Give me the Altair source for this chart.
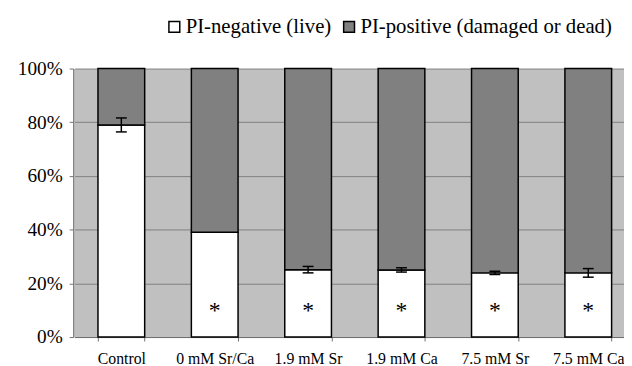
import altair as alt
import pandas as pd

categories = ["Control", "0 mM Sr/Ca", "1.9 mM Sr", "1.9 mM Ca", "7.5 mM Sr", "7.5 mM Ca"]
live = [79, 39, 25.1, 25.0, 23.9, 23.9]
err = [2.6, 0, 1.2, 0.8, 0.6, 1.6]
signif = ["", "*", "*", "*", "*", "*"]
series = ["PI-negative (live)", "PI-positive (damaged or dead)"]
y_ticks = [0, 20, 40, 60, 80, 100]

FONT = "'Liberation Serif', 'Times New Roman', Times, serif"

rows = []
for c, v in zip(categories, live):
    rows.append({"cat": c, "series": series[0], "lo": 0, "hi": v})
    rows.append({"cat": c, "series": series[1], "lo": v, "hi": 100})
bars_df = pd.DataFrame(rows)

pt_df = pd.DataFrame({
    "cat": categories,
    "live": live,
    "err": err,
    "lo": [v - e for v, e in zip(live, err)],
    "hi": [v + e for v, e in zip(live, err)],
    "sig": signif,
    "star_y": [7] * len(categories),
})

xscale = alt.Scale(domain=categories, range=[1.5, 569.1], paddingInner=0.5, paddingOuter=0.25)
yscale = alt.Scale(domain=[0, 100], nice=False)

xaxis = alt.Axis(title=None, labelAngle=0, tickBand="extent", grid=False,
                 domainColor="#707070", tickColor="#707070", tickSize=4,
                 labelPadding=10, labelFontSize=16, labelColor="black",
                 labelFont=FONT)
yaxis = alt.Axis(title=None, values=y_ticks, labelExpr="datum.value + '%'",
                 grid=True, gridColor="#808080", gridWidth=1,
                 domainColor="#707070", tickColor="#707070", tickSize=4,
                 labelPadding=7, labelFontSize=19.5, labelColor="black",
                 labelFont=FONT)

bars = alt.Chart(bars_df).mark_bar(stroke="black", strokeWidth=1.5).encode(
    x=alt.X("cat:N", scale=xscale, axis=xaxis, sort=categories),
    y=alt.Y("lo:Q", scale=yscale, axis=yaxis),
    y2="hi:Q",
    color=alt.Color("series:N", scale=alt.Scale(domain=series, range=["#ffffff", "#808080"]),
                    legend=alt.Legend(title=None, orient="none", legendX=92, legendY=-53,
                                      direction="horizontal", symbolType="square",
                                      symbolSize=121, symbolStrokeColor="black",
                                      symbolStrokeWidth=1.5, labelFontSize=21,
                                      labelFont=FONT, labelColor="black", labelLimit=1000,
                                      labelOffset=1, columnPadding=7, padding=0)),
    order=alt.Order("series:N"),
)

eb = alt.Chart(pt_df).transform_filter("datum.err > 0")
rule = eb.mark_rule(color="black", strokeWidth=1.5).encode(
    x=alt.X("cat:N", scale=xscale, sort=categories),
    y=alt.Y("lo:Q", scale=yscale),
    y2="hi:Q",
)
cap_lo = eb.mark_tick(color="black", thickness=1.5, size=11, opacity=1).encode(
    x=alt.X("cat:N", scale=xscale, sort=categories),
    y=alt.Y("lo:Q", scale=yscale),
)
cap_hi = eb.mark_tick(color="black", thickness=1.5, size=11, opacity=1).encode(
    x=alt.X("cat:N", scale=xscale, sort=categories),
    y=alt.Y("hi:Q", scale=yscale),
)
stars = alt.Chart(pt_df).mark_text(font=FONT, fontSize=24, color="#000000",
                                   baseline="alphabetic").encode(
    x=alt.X("cat:N", scale=xscale, sort=categories),
    y=alt.Y("star_y:Q", scale=yscale),
    text="sig:N",
)

chart = alt.layer(bars, rule, cap_lo, cap_hi, stars).properties(
    width=558, height=272,
    autosize=alt.AutoSizeParams(type="none"),
    padding={"left": 66, "top": 59, "right": 0, "bottom": 27},
).configure(font=FONT).configure_view(fill="#c0c0c0", stroke="transparent")

chart.save("out.html", embed_options={"renderer": "svg", "actions": False})
